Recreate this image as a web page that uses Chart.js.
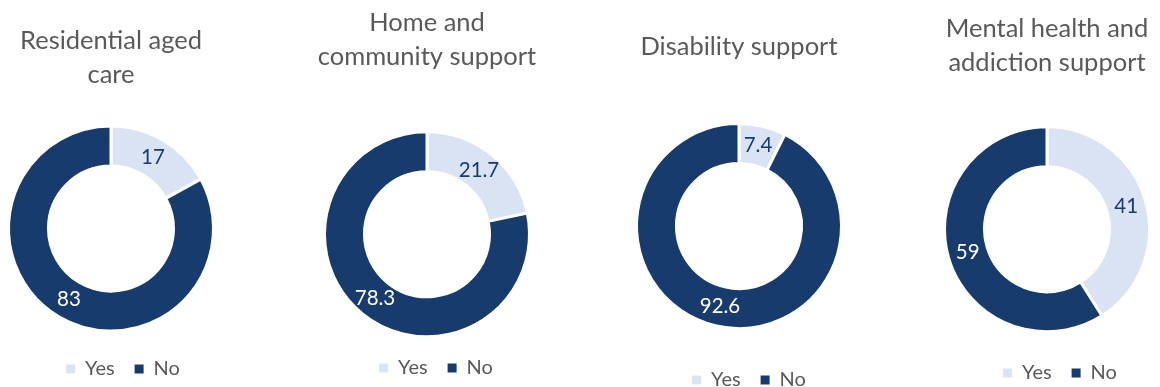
<!DOCTYPE html>
<html>
<head>
<meta charset="utf-8">
<script src="https://cdn.jsdelivr.net/npm/chart.js@4/dist/chart.umd.min.js"></script>
<style>
  html, body { margin: 0; padding: 0; background: #fff; }
  #wrap { position: relative; width: 1160px; height: 387px; overflow: hidden; }
  .cell { position: absolute; top: 0; }
</style>
</head>
<body>
<div id="wrap"></div>
<script>
const categories = ['Yes', 'No'];
const titles = [
  ['Residential aged', 'care'],
  ['Home and', 'community support'],
  ['Disability support'],
  ['Mental health and', 'addiction support']
];
const yesValues = [17, 21.7, 7.4, 41];
const noValues = [83, 78.3, 92.6, 59];

const LIGHT = '#DAE3F3';
const DARK = '#173B6C';
const GREY = '#595959';
const FONT = 'Lato';

// centre of each ring, middle of the first title line, middle of the legend row
const spots = [
  { cx: 111, cy: 228.5, t: 40.5, l: 369, dx: 12 },
  { cx: 427, cy: 234, t: 23, l: 367.5, dx: 9 },
  { cx: 739, cy: 226, t: 46.5, l: 380, dx: 10 },
  { cx: 1047, cy: 229, t: 28.8, l: 372.5, dx: 13 }
];
const W = 290;
const LINE = 34;
const TITLE_SIZE = 25.5;
const LEG_SIZE = 20;
const LEG_PAD = 20;

// writes the value in the middle of each slice
const valueLabels = {
  id: 'valueLabels',
  afterDatasetsDraw(chart) {
    const ctx = chart.ctx;
    const values = chart.data.datasets[0].data;
    ctx.save();
    ctx.font = '20.5px ' + FONT;
    ctx.textAlign = 'center';
    ctx.textBaseline = 'middle';
    chart.getDatasetMeta(0).data.forEach((arc, i) => {
      const p = arc.tooltipPosition();
      ctx.fillStyle = i === 0 ? DARK : '#ffffff';
      ctx.fillText(String(values[i]), p.x, p.y);
    });
    ctx.restore();
  }
};

// nudges the legend sideways
const legendShift = {
  id: 'legendShift',
  afterLayout(chart, args, opts) {
    chart.legend.left += opts.dx;
    chart.legend.right += opts.dx;
  }
};

// legend squares without the white slice border
function plainBoxes(chart) {
  const base = Chart.overrides.doughnut.plugins.legend.labels.generateLabels(chart);
  return base.map(item => Object.assign(item, { lineWidth: 0, strokeStyle: item.fillStyle }));
}

function makeChart(i) {
  const s = spots[i];
  const lines = titles[i].length;
  // legend box: text row sits padding + half a line below its top
  const legendTop = s.l - (LEG_PAD + LEG_SIZE / 2);
  const H = legendTop + LEG_SIZE + LEG_PAD + 10;
  const titleBottom = 2 * s.cy - legendTop;
  const pt = s.t - LINE / 2;
  const pb = titleBottom - pt - lines * LINE;

  const cell = document.createElement('div');
  cell.className = 'cell';
  cell.style.left = (s.cx - W / 2) + 'px';
  const canvas = document.createElement('canvas');
  canvas.width = W;
  canvas.height = Math.ceil(H);
  cell.appendChild(canvas);
  document.getElementById('wrap').appendChild(cell);

  new Chart(canvas.getContext('2d'), {
    type: 'doughnut',
    data: {
      labels: categories,
      datasets: [{
        data: [yesValues[i], noValues[i]],
        backgroundColor: [LIGHT, DARK],
        borderColor: '#ffffff',
        borderWidth: 3,
        hoverOffset: 0
      }]
    },
    options: {
      responsive: false,
      animation: false,
      radius: 102.5,
      cutout: '61%',
      layout: { padding: 0 },
      plugins: {
        title: {
          display: true,
          text: titles[i],
          color: GREY,
          font: { family: FONT, size: TITLE_SIZE, weight: 'normal', lineHeight: LINE / TITLE_SIZE },
          padding: { top: pt, bottom: pb }
        },
        legend: {
          position: 'bottom',
          labels: {
            boxWidth: 9,
            boxHeight: 9,
            padding: LEG_PAD,
            color: GREY,
            font: { family: FONT, size: LEG_SIZE },
            generateLabels: plainBoxes
          }
        },
        legendShift: { dx: s.dx },
        tooltip: { enabled: false }
      }
    },
    plugins: [valueLabels, legendShift]
  });
}

for (let i = 0; i < yesValues.length; i++) makeChart(i);
</script>
</body>
</html>
